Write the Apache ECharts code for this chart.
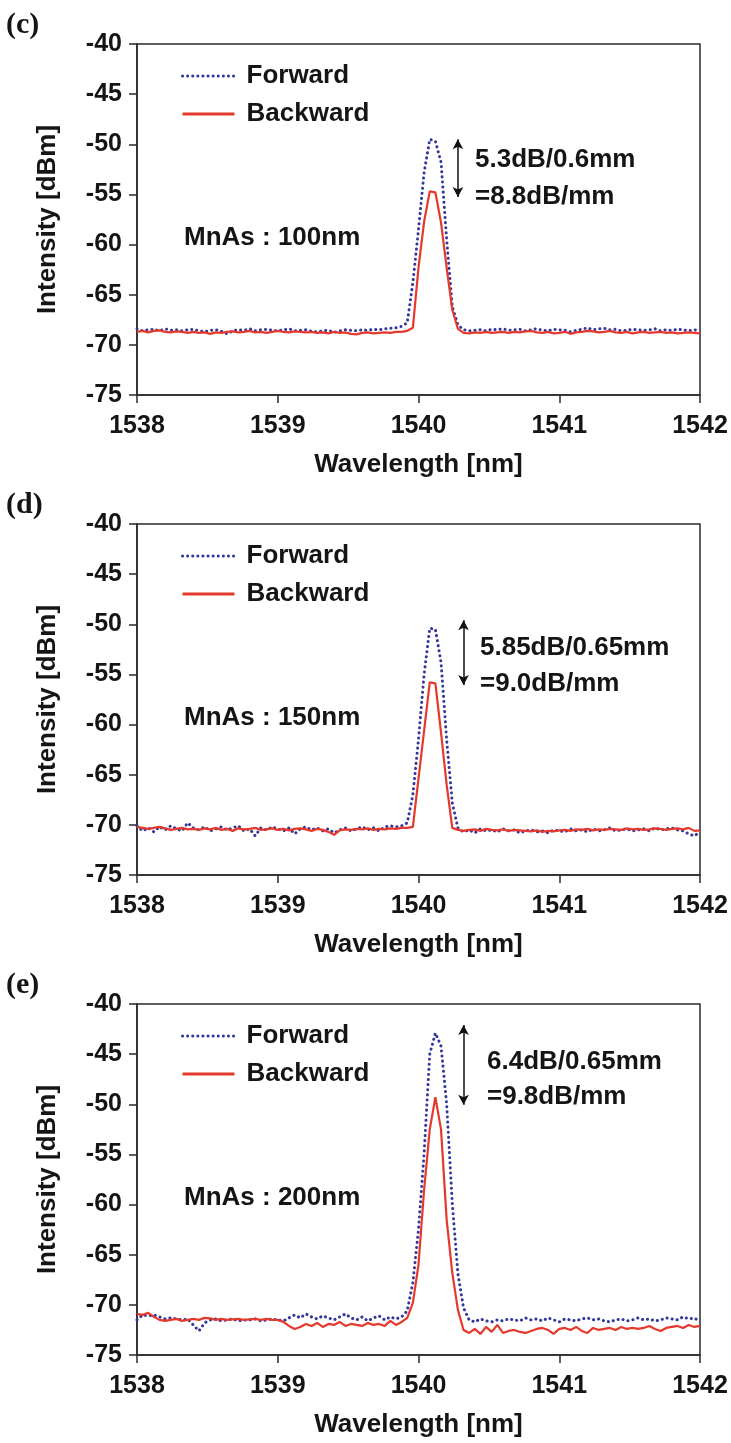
<!DOCTYPE html>
<html>
<head>
<meta charset="utf-8">
<title>Forward / Backward spectra</title>
<script src="https://cdn.jsdelivr.net/npm/echarts@6/dist/echarts.min.js"></script>
<style>
    html, body { margin: 0; padding: 0; background: #fff; }
    #chart { width: 731px; height: 1443px; }
</style>
</head>
<body>
<div id="chart"></div>
<script>
// 波长采样点 1538 ~ 1542 nm, 步长 0.04 nm (101 个点)
var wavelength = [];
for (var i = 0; i <= 100; i++) {
    wavelength.push(+(1538 + i * 0.04).toFixed(2));
}

var xTicks = [1538, 1539, 1540, 1541, 1542];
var yTicks = [-75, -70, -65, -60, -55, -50, -45, -40];

// (c) MnAs 100nm
var fwdC = [
    -68.4, -68.6, -68.5, -68.45, -68.6, -68.4, -68.55, -68.5, -68.6, -68.5,
    -68.45, -68.6, -68.7, -68.55, -68.5, -68.65, -68.9, -68.6, -68.5, -68.55,
    -68.4, -68.6, -68.5, -68.45, -68.55, -68.6, -68.5, -68.4, -68.6, -68.55,
    -68.5, -68.65, -68.7, -68.6, -68.55, -68.75, -68.6, -68.5, -68.55, -68.6,
    -68.5, -68.55, -68.45, -68.5, -68.4, -68.35, -68.3, -68.15, -67.8, -63.8,
    -58.5, -52.8, -49.5, -49.7, -51.8, -59.5, -66.2, -68.0, -68.5,
    -68.6, -68.55, -68.5, -68.6, -68.45, -68.5, -68.4, -68.55, -68.5, -68.45, -68.6,
    -68.5, -68.4, -68.55, -68.6, -68.45, -68.5, -68.55, -68.7, -68.55, -68.45,
    -68.3, -68.5, -68.4, -68.35, -68.5, -68.45, -68.6, -68.55, -68.45, -68.5,
    -68.55, -68.5, -68.4, -68.6, -68.5, -68.55, -68.45, -68.5, -68.6, -68.5, -68.55
];
var bwdC = [
    -68.7, -68.6, -68.75, -68.6, -68.55, -68.7, -68.75, -68.65, -68.7, -68.8,
    -68.7, -68.8, -68.75, -68.9, -68.75, -68.8, -68.7, -68.65, -68.75, -68.7,
    -68.6, -68.75, -68.7, -68.8, -68.7, -68.6, -68.7, -68.75, -68.65, -68.7,
    -68.75, -68.7, -68.8, -68.75, -68.85, -68.7, -68.8, -68.75, -68.9, -68.95,
    -68.8, -68.75, -68.85, -68.8, -68.75, -68.8, -68.7, -68.7, -68.6, -68.3,
    -62.3, -57.7, -54.7, -54.8, -57.8, -62.3, -66.5, -68.4,
    -68.8, -68.85, -68.75, -68.8, -68.7, -68.8, -68.75, -68.7, -68.8, -68.7, -68.75, -68.65,
    -68.6, -68.75, -68.8, -68.7, -68.85, -68.8, -68.7, -68.9, -68.75, -68.7,
    -68.6, -68.65, -68.75, -68.7, -68.6, -68.75, -68.8, -68.7, -68.85, -68.75,
    -68.7, -68.8, -68.75, -68.7, -68.8, -68.75, -68.85, -68.8, -68.75, -68.8, -68.85
];

// (d) MnAs 150nm
var fwdD = [
    -70.1, -70.6, -70.3, -70.7, -70.2, -70.5, -70.1, -70.4, -70.6, -69.8,
    -70.3, -70.5, -70.2, -70.6, -70.4, -70.2, -70.5, -70.3, -70.1, -70.6,
    -70.4, -71.1, -70.3, -70.5, -70.2, -70.4, -70.6, -70.3, -70.9, -70.4,
    -70.2, -70.5, -70.3, -70.6, -70.4, -70.8, -70.5, -70.3, -70.6, -70.4,
    -70.2, -70.5, -70.3, -70.6, -70.2, -70.1, -70.2, -70.1, -69.8, -67.0,
    -61.5, -55.0, -50.4, -50.5, -53.8, -61.5, -67.8, -70.3,
    -70.7, -70.5, -70.8, -70.4, -70.6, -70.5, -70.7, -70.4, -70.6, -70.5, -70.8,
    -70.6, -70.5, -70.7, -70.6, -70.8, -70.5, -70.6, -70.7, -70.4, -70.6,
    -70.5, -70.7, -70.4, -70.6, -70.5, -70.3, -70.6, -70.5, -70.4, -70.6,
    -70.5, -70.4, -70.6, -70.3, -70.5, -70.4, -70.3, -70.5, -70.6, -70.9, -71.1, -70.7
];
var bwdD = [
    -70.2, -70.3, -70.4, -70.3, -70.2, -70.35, -70.5, -70.4, -70.3, -70.45,
    -70.4, -70.5, -70.35, -70.45, -70.3, -70.5, -70.4, -70.6, -70.35, -70.45,
    -70.4, -70.3, -70.5, -70.45, -70.35, -70.5, -70.4, -70.55, -70.4, -70.35,
    -70.45, -70.6, -70.4, -70.5, -70.7, -71.0, -70.55, -70.45, -70.5, -70.4,
    -70.45, -70.35, -70.5, -70.4, -70.45, -70.35, -70.4, -70.3, -70.3, -70.2,
    -65.4, -60.6, -55.8, -55.9, -60.8, -66.0, -70.3, -70.5,
    -70.6, -70.5, -70.45, -70.6, -70.4, -70.5, -70.55, -70.45, -70.6, -70.5, -70.55,
    -70.6, -70.65, -70.55, -70.7, -70.6, -70.65, -70.55, -70.5, -70.6, -70.45,
    -70.5, -70.4, -70.55, -70.45, -70.5, -70.4, -70.45, -70.5, -70.35, -70.45,
    -70.4, -70.5, -70.45, -70.35, -70.4, -70.5, -70.4, -70.35, -70.45, -70.3, -70.6, -70.55
];

// (e) MnAs 200nm
var fwdE = [
    -71.5, -71.0, -71.1, -71.0, -71.2, -71.4, -71.3, -71.4, -71.5, -71.4,
    -72.0, -72.6, -71.8, -71.5, -71.4, -71.6, -71.5, -71.4, -71.6, -71.5,
    -71.5, -71.4, -71.6, -71.5, -71.4, -71.5, -71.6, -71.3, -71.0, -71.3,
    -70.9, -71.2, -71.4, -71.1, -71.3, -71.5, -71.2, -70.9, -71.3, -71.5,
    -71.2, -71.6, -71.3, -71.1, -71.5, -71.2, -71.4, -71.2, -70.6, -67.8,
    -62.5, -54.9, -45.0, -42.9, -44.2, -50.0, -59.9, -66.9, -70.3,
    -71.5, -71.7, -71.4, -71.6, -71.7, -71.5, -71.6, -71.4, -71.5, -71.6,
    -71.3, -71.5, -71.4, -71.6, -71.3, -71.5, -71.7, -71.4, -71.5, -71.6,
    -71.4, -71.3, -71.5, -71.4, -71.6, -71.7, -71.5, -71.4, -71.6, -71.5,
    -71.3, -71.5, -71.4, -71.6, -71.5, -71.3, -71.4, -71.5, -71.2, -71.4, -71.3, -71.7
];
var bwdE = [
    -70.9, -71.0, -70.8, -71.2, -71.5, -71.6, -71.5, -71.4, -71.6, -71.5,
    -71.4, -71.5, -71.3, -71.35, -71.5, -71.4, -71.5, -71.45, -71.4, -71.5,
    -71.45, -71.4, -71.5, -71.4, -71.5, -71.5, -71.7, -72.1, -72.4, -72.2,
    -71.9, -72.1, -71.8, -72.2, -71.9, -72.0, -71.7, -72.1, -71.9, -72.0,
    -72.1, -71.8, -72.0, -71.9, -72.1, -71.6, -72.0, -71.7, -71.3, -69.8,
    -66.0, -58.5, -52.5, -49.3, -52.5, -61.5, -66.8, -70.5, -72.5,
    -72.8, -72.4, -72.9, -72.2, -72.7, -72.0, -72.8, -72.6, -72.5, -72.7,
    -72.8, -72.6, -72.4, -72.3, -72.5, -72.9, -72.4, -72.3, -72.5, -72.2,
    -72.6, -72.8, -72.3, -72.5, -72.4, -72.3, -72.5, -72.2, -72.4, -72.3,
    -72.4, -72.3, -72.1, -72.4, -72.6, -72.3, -72.2, -72.1, -72.3, -72.0, -72.2, -72.1
];

// 每个小图的标注
var panels = [
    {tag: '(c)', fwd: fwdC, bwd: bwdC, film: 'MnAs : 100nm', note: ['5.3dB/0.6mm', '=8.8dB/mm'], arrowX: 1540.28, arrowY: [-49.5, -55.25]},
    {tag: '(d)', fwd: fwdD, bwd: bwdD, film: 'MnAs : 150nm', note: ['5.85dB/0.65mm', '=9.0dB/mm'], arrowX: 1540.32, arrowY: [-49.6, -56.05]},
    {tag: '(e)', fwd: fwdE, bwd: bwdE, film: 'MnAs : 200nm', note: ['6.4dB/0.65mm', '=9.8dB/mm'], arrowX: 1540.32, arrowY: [-42.1, -50.05]}
];

function pairs(ys) {
    return ys.map(function (y, k) { return [wavelength[k], y]; });
}

var FONT = '"Liberation Sans", Arial, Helvetica, sans-serif';
var BLUE = '#33379a';
var RED = '#e6392d';
var INK = '#151515';

var panelTop = [44, 524, 1004];
var noteLeft = [475, 480, 487];
var noteTop = [[116, 153], [124, 160], [58, 93]];

var grids = [], xAxes = [], yAxes = [], series = [], legends = [], graphics = [];

panels.forEach(function (p, n) {
    var top = panelTop[n];
    grids.push({
        left: 137, top: top, width: 563, height: 351,
        show: true, borderColor: '#2a2a2a', borderWidth: 1.5
    });
    xAxes.push({
        gridIndex: n, type: 'value',
        min: xTicks[0], max: xTicks[xTicks.length - 1], interval: 1,
        name: 'Wavelength [nm]', nameLocation: 'middle', nameGap: 57,
        nameTextStyle: {fontSize: 26, fontWeight: 'bold', fontFamily: FONT, color: INK},
        axisLine: {onZero: false, lineStyle: {color: '#2a2a2a', width: 1.5}},
        axisTick: {inside: false, length: 8, lineStyle: {color: '#2a2a2a', width: 1.5}},
        axisLabel: {
            fontSize: 25, fontWeight: 'bold', fontFamily: FONT, color: INK, margin: 19,
            formatter: function (v) { return String(v); }
        },
        splitLine: {show: false}
    });
    yAxes.push({
        gridIndex: n, type: 'value',
        min: yTicks[0], max: yTicks[yTicks.length - 1], interval: 5,
        name: 'Intensity [dBm]', nameLocation: 'middle', nameGap: 76,
        nameTextStyle: {fontSize: 26, fontWeight: 'bold', fontFamily: FONT, color: INK},
        axisLine: {onZero: false, lineStyle: {color: '#2a2a2a', width: 1.5}},
        axisTick: {inside: false, length: 8, lineStyle: {color: '#2a2a2a', width: 1.5}},
        axisLabel: {fontSize: 25, fontWeight: 'bold', fontFamily: FONT, color: INK, margin: 15},
        splitLine: {show: false}
    });

    series.push({
        name: 'Forward', type: 'line', xAxisIndex: n, yAxisIndex: n,
        data: pairs(p.fwd), symbol: 'none', animation: false,
        lineStyle: {color: BLUE, width: 3, type: [0.1, 5], cap: 'round'},
        itemStyle: {color: BLUE}
    });
    series.push({
        name: 'Backward', type: 'line', xAxisIndex: n, yAxisIndex: n,
        data: pairs(p.bwd), symbol: 'none', animation: false,
        lineStyle: {color: RED, width: 2.2},
        itemStyle: {color: RED},
        // 双向箭头
        markLine: {
            silent: true, animation: false,
            symbol: ['arrow', 'arrow'], symbolSize: [8, 10],
            label: {show: false},
            lineStyle: {color: '#111', width: 1.5, type: 'solid'},
            data: [[{coord: [p.arrowX, p.arrowY[0]]}, {coord: [p.arrowX, p.arrowY[1]]}]]
        }
    });

    legends.push({
        orient: 'vertical', left: 176, top: top + 14,
        itemWidth: 52, itemHeight: 14, itemGap: 12,
        selectedMode: false,
        itemStyle: {opacity: 0},
        lineStyle: {width: 3},
        textStyle: {fontSize: 26, fontWeight: 'bold', fontFamily: FONT, color: INK, padding: [0, 0, 0, 7]},
        data: ['Forward', 'Backward']
    });

    graphics.push({
        type: 'text', left: 6, top: top - 34,
        style: {text: p.tag, font: 'bold 30px "Liberation Serif", "Times New Roman", serif', fill: INK}
    });
    graphics.push({
        type: 'text', x: 184, y: top + 194,
        style: {text: p.film, font: 'bold 26px ' + FONT, fill: INK, verticalAlign: 'middle'}
    });
    p.note.forEach(function (t, k) {
        graphics.push({
            type: 'text', x: noteLeft[n], y: top + noteTop[n][k],
            style: {text: t, font: 'bold 26px ' + FONT, fill: INK, verticalAlign: 'middle'}
        });
    });
});

var chart = echarts.init(document.getElementById('chart'));
chart.setOption({
    backgroundColor: '#fff',
    animation: false,
    grid: grids,
    xAxis: xAxes,
    yAxis: yAxes,
    legend: legends,
    series: series,
    graphic: graphics
});
</script>
</body>
</html>
